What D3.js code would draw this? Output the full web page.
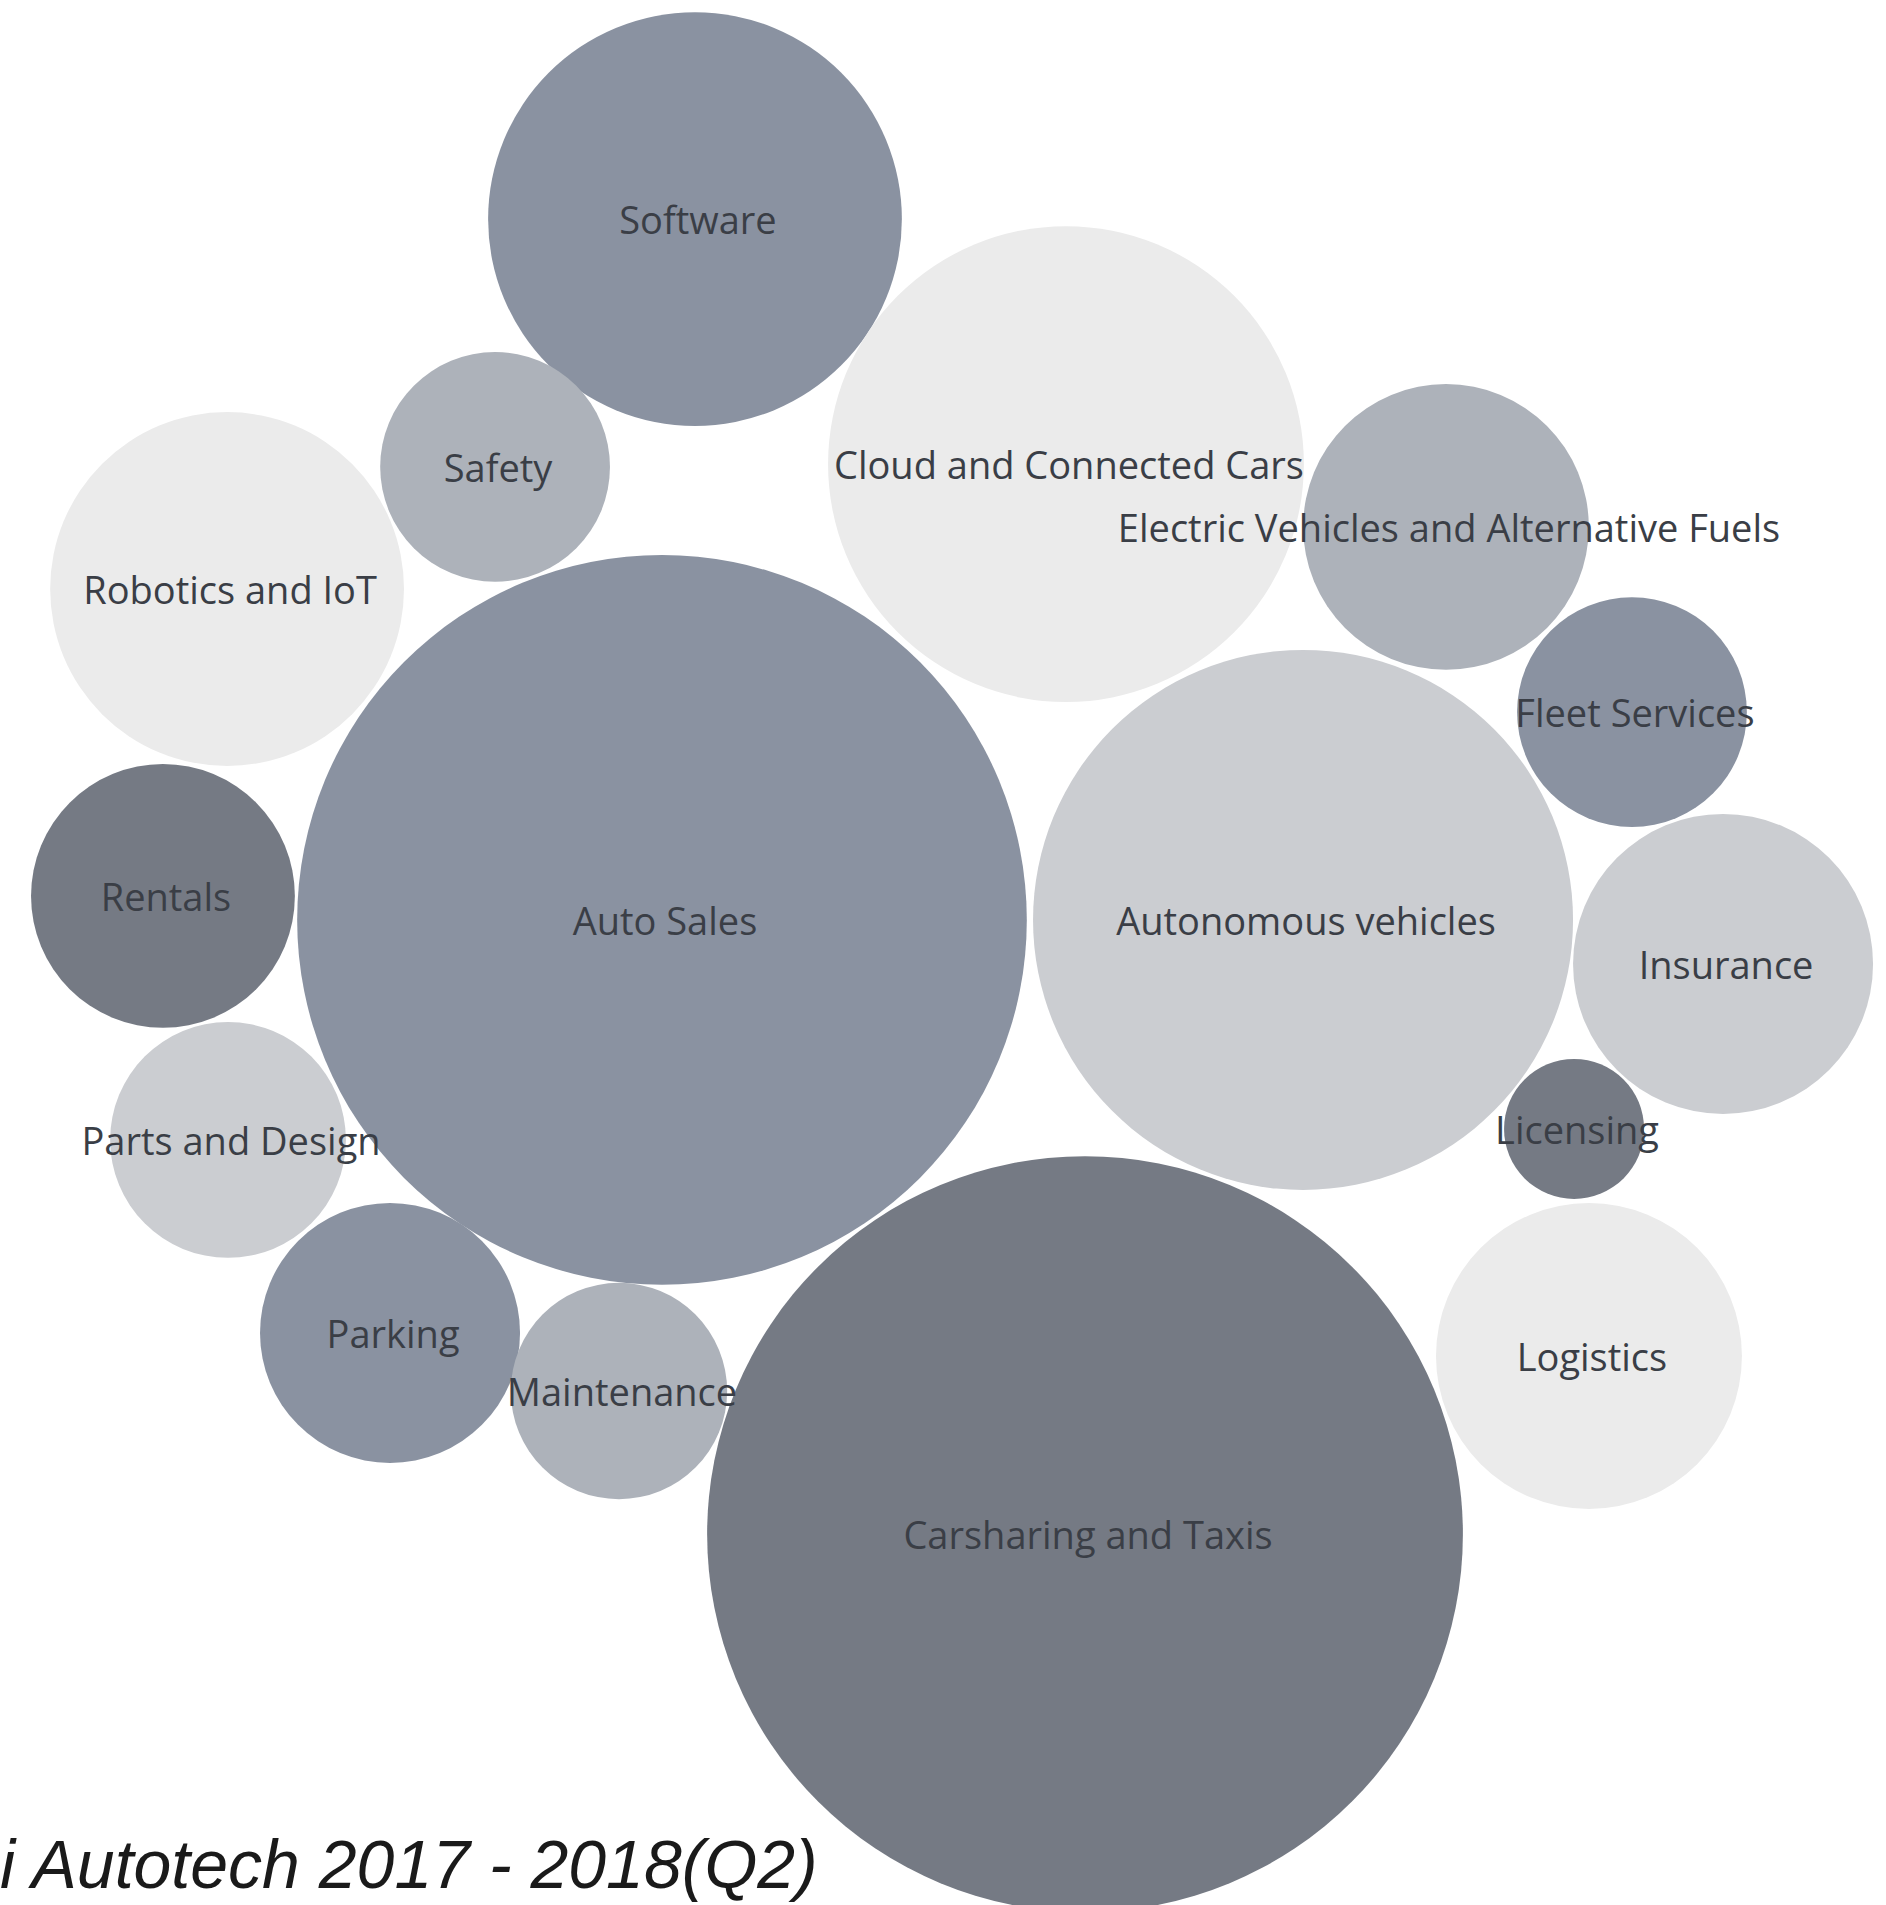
<!DOCTYPE html>
<html>
<head>
<meta charset="utf-8">
<script src="https://cdn.jsdelivr.net/npm/d3@7"></script>
<style>
  html, body { margin: 0; padding: 0; background: #ffffff; overflow: hidden; }
  svg { display: block; }
</style>
</head>
<body>
<svg id="chart" width="1886" height="1905"></svg>
<script>
// Autotech segments
const categories = [
  "Software", "Cloud and Connected Cars", "Safety", "Robotics and IoT",
  "Electric Vehicles and Alternative Fuels", "Fleet Services", "Auto Sales",
  "Autonomous vehicles", "Rentals", "Insurance", "Licensing", "Parts and Design",
  "Parking", "Maintenance", "Logistics", "Carsharing and Taxis"
];
// bubble size measure per segment
const values = [428, 566, 132, 313, 204, 132, 1331, 729, 174, 225, 49, 139, 169, 117, 234, 1428];
// colour tier per segment (0 = darkest, 4 = lightest)
const tiers = [1, 4, 2, 4, 2, 1, 1, 3, 0, 3, 0, 3, 1, 2, 4, 0];
const tierColors = ["#757a84", "#8a92a1", "#adb2ba", "#cbcdd1", "#ebebeb"];

// packed layout centres, in a unit square
const layoutX = [0.3685, 0.5652, 0.2625, 0.1204, 0.7667, 0.8653, 0.3510, 0.6909, 0.0864, 0.9136, 0.8346, 0.1209, 0.2068, 0.3282, 0.8425, 0.5753];
const layoutY = [0.1150, 0.2436, 0.2451, 0.3092, 0.2766, 0.3738, 0.4829, 0.4829, 0.4703, 0.5060, 0.5926, 0.5984, 0.6997, 0.7302, 0.7118, 0.8053];

const titleText = "i Autotech 2017 - 2018(Q2)";

const svg = d3.select("#chart");
const W = 1886, H = 1905;

const x = d3.scaleLinear().domain([0, 1]).range([0, W]);
const y = d3.scaleLinear().domain([0, 1]).range([0, H]);
const r = d3.scaleSqrt().domain([0, d3.max(values)]).range([0, Math.sqrt(d3.max(values)) * 10]);
const color = d3.scaleOrdinal().domain([0, 1, 2, 3, 4]).range(tierColors);

const nodes = categories.map((name, i) => ({
  name, value: values[i], tier: tiers[i], cx: x(layoutX[i]), cy: y(layoutY[i])
}));

svg.append("g")
  .selectAll("circle")
  .data(nodes)
  .join("circle")
  .attr("cx", d => d.cx)
  .attr("cy", d => d.cy)
  .attr("r", d => r(d.value))
  .attr("fill", d => color(d.tier));

svg.append("g")
  .selectAll("text")
  .data(nodes)
  .join("text")
  .attr("x", d => d.cx + 3)
  .attr("y", d => d.cy)
  .attr("text-anchor", "middle")
  .attr("dominant-baseline", "central")
  .attr("font-family", "'Open Sans', 'Noto Sans', sans-serif")
  .attr("font-size", 38)
  .attr("fill", "#3a3e46")
  .text(d => d.name);

svg.append("text")
  .attr("x", 0)
  .attr("y", 1888)
  .attr("text-anchor", "start")
  .attr("font-family", "'Liberation Sans', Arial, sans-serif")
  .attr("font-style", "italic")
  .attr("font-size", 68)
  .attr("fill", "#1a1a1a")
  .text(titleText);
</script>
</body>
</html>
